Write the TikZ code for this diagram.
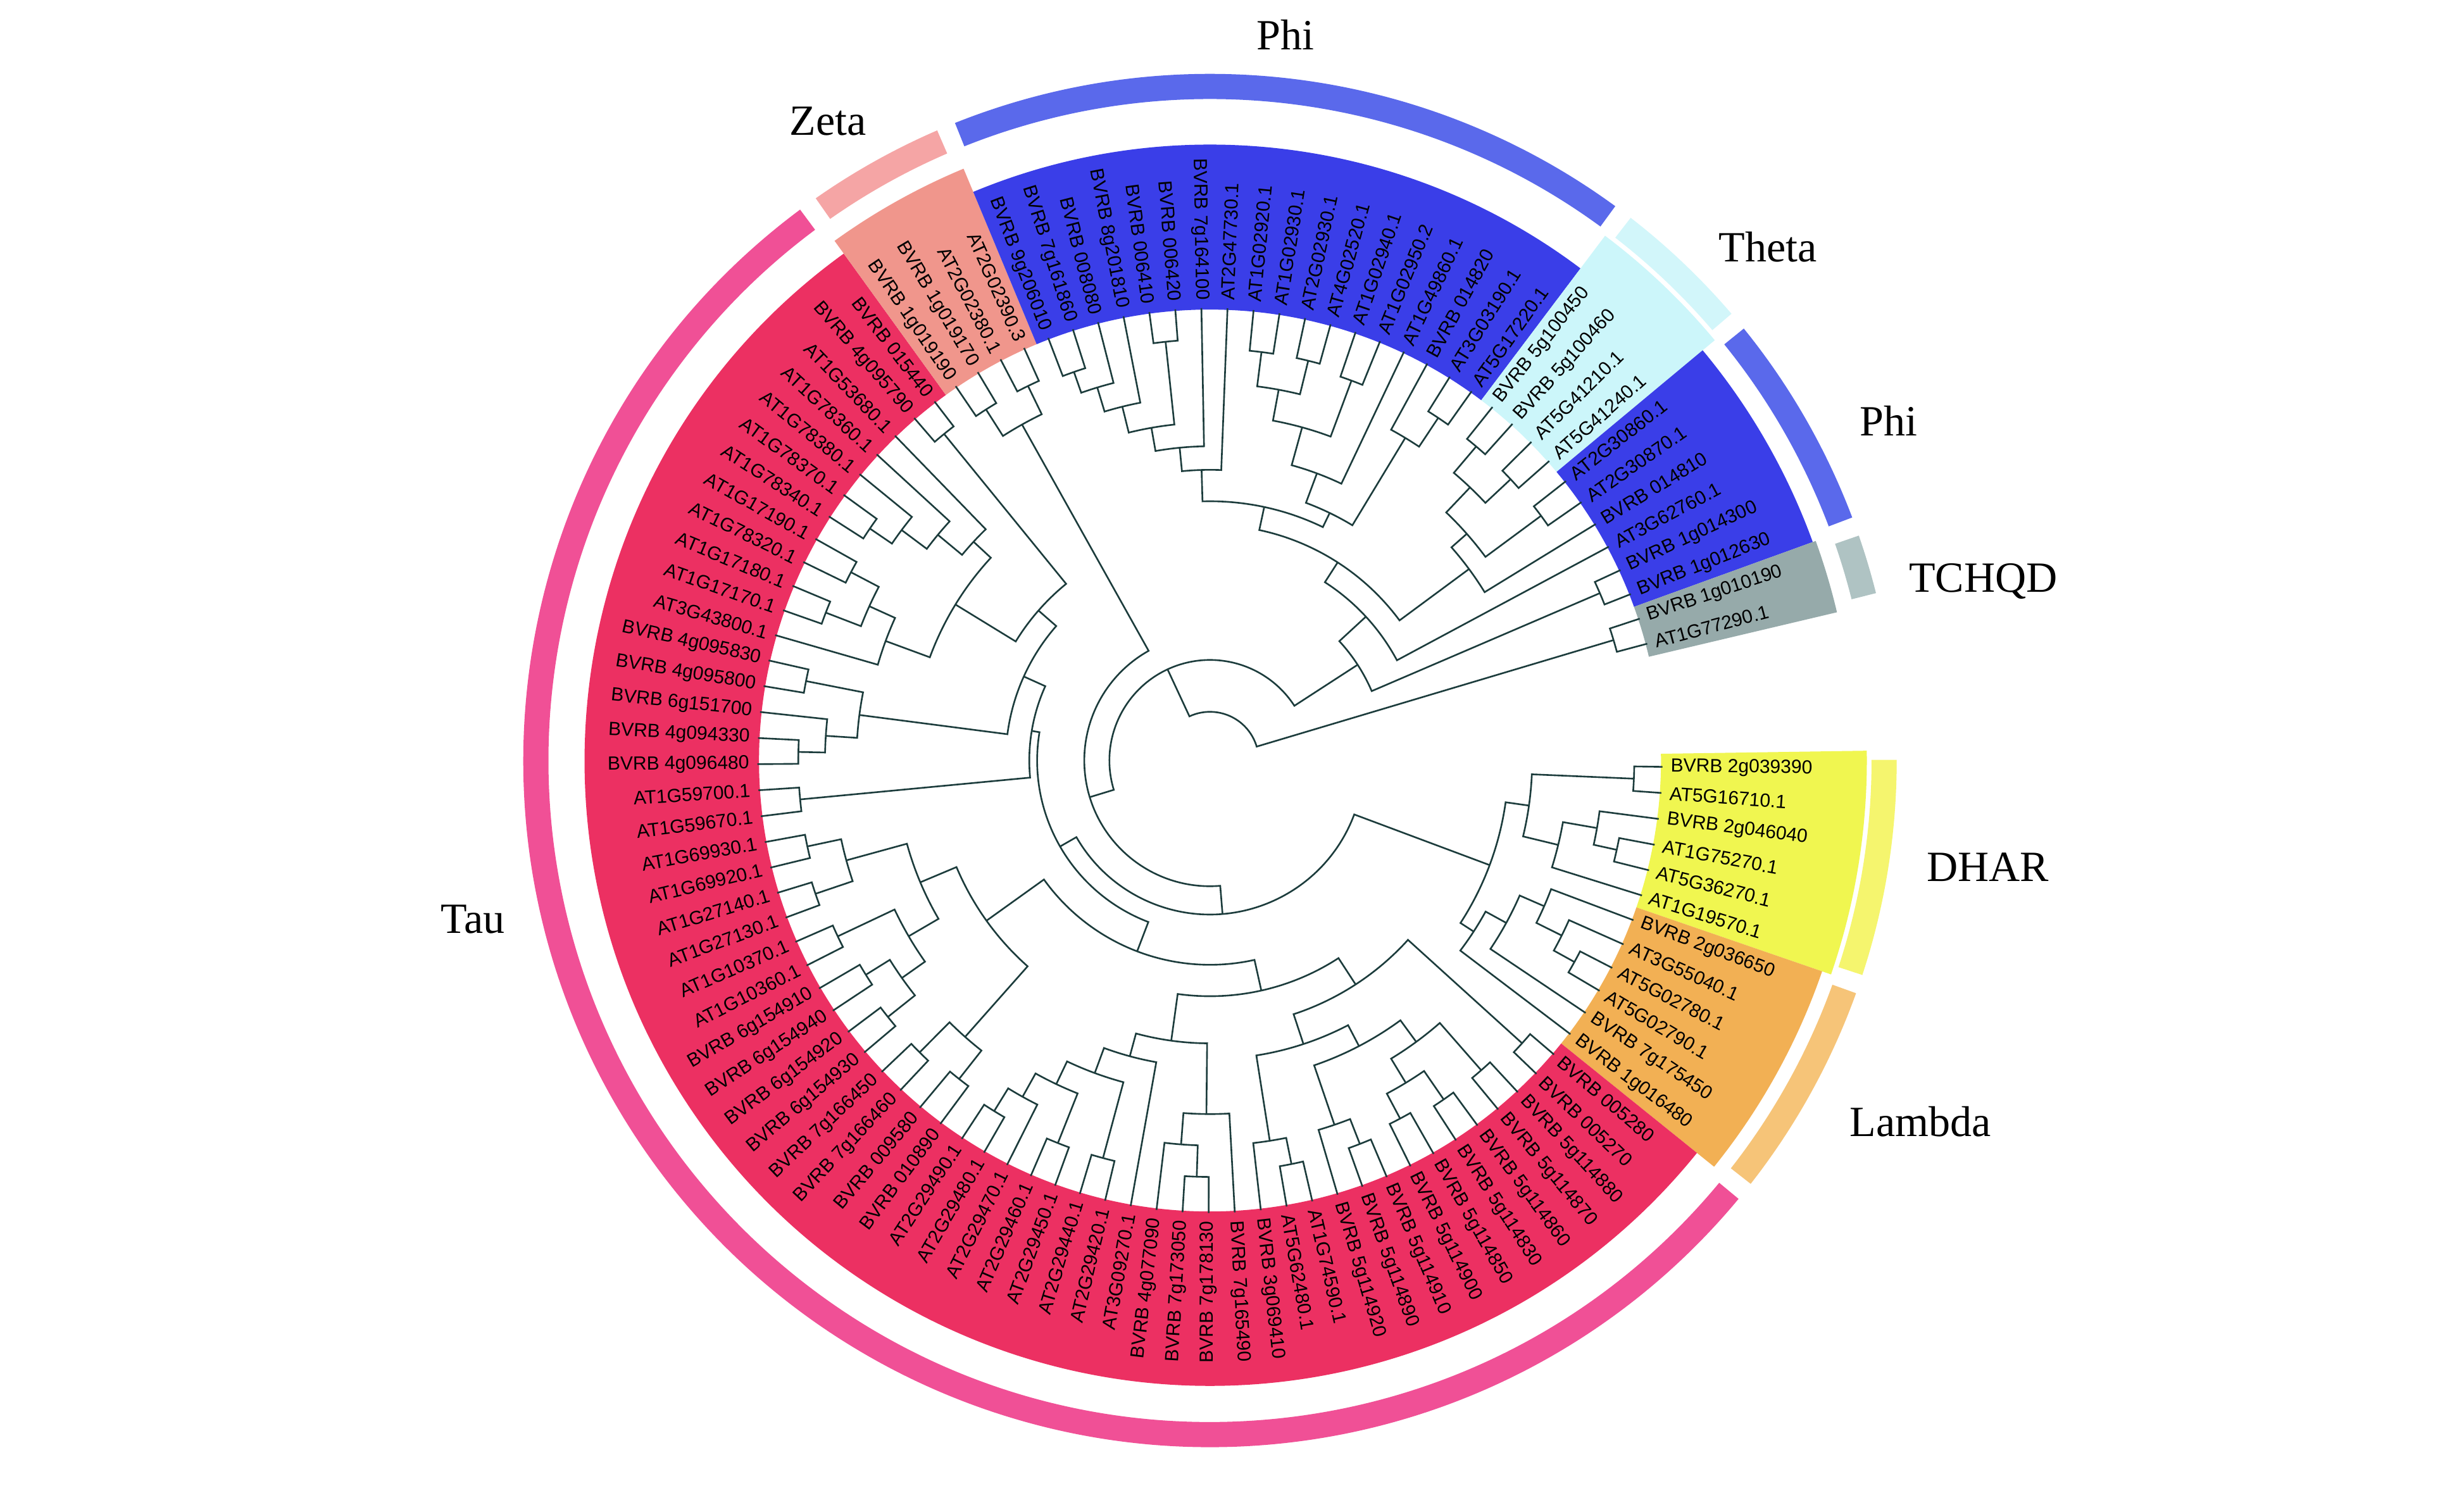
\documentclass[tikz,border=0pt]{standalone}
\usepackage{fontspec}
\setmainfont{Liberation Serif}
\newfontfamily\labfont{Liberation Sans}

\definecolor{treeC}{RGB}{28,60,60}
\definecolor{tauC}{RGB}{236,48,98}
\definecolor{zetaC}{RGB}{240,150,140}
\definecolor{phiC}{RGB}{58,62,232}
\definecolor{thetaC}{RGB}{204,246,250}
\definecolor{tchqdC}{RGB}{150,170,170}
\definecolor{dharC}{RGB}{240,246,80}
\definecolor{lambdaC}{RGB}{242,176,84}
\definecolor{tauR}{RGB}{240,80,150}
\definecolor{zetaR}{RGB}{245,165,165}
\definecolor{phiR}{RGB}{90,105,235}
\definecolor{thetaR}{RGB}{210,246,250}
\definecolor{tchqdR}{RGB}{175,195,195}
\definecolor{dharR}{RGB}{245,245,110}
\definecolor{lambdaR}{RGB}{246,196,120}

% leaf i sits at angle -0.8-3.31*i
% \clade{r}{pos1}{r1}{pos2}{r2}
\newcommand{\clade}[5]{%
  \draw[branch] ({-0.8-3.31*(#2)}:#3) -- ({-0.8-3.31*(#2)}:#1)
    arc[start angle={-0.8-3.31*(#2)}, end angle={-0.8-3.31*(#4)}, radius=#1]
    -- ({-0.8-3.31*(#4)}:#5);}
% \grpsector{colour}{first}{last}{outer r}
\newcommand{\grpsector}[4]{%
  \fill[#1] ({-0.8-3.31*(#2)+1.655}:287)
    arc[start angle={-0.8-3.31*(#2)+1.655}, end angle={-0.8-3.31*(#3)-1.655}, radius=287]
    -- ({-0.8-3.31*(#3)-1.655}:#4)
    arc[start angle={-0.8-3.31*(#3)-1.655}, end angle={-0.8-3.31*(#2)+1.655}, radius=#4] -- cycle;}
% \grpring{colour}{first}{last}
\newcommand{\grpring}[3]{%
  \fill[#1] ({-0.8-3.31*(#2)+0.85}:421)
    arc[start angle={-0.8-3.31*(#2)+0.85}, end angle={-0.8-3.31*(#3)-0.85}, radius=421]
    -- ({-0.8-3.31*(#3)-0.85}:437)
    arc[start angle={-0.8-3.31*(#3)-0.85}, end angle={-0.8-3.31*(#2)+0.85}, radius=437] -- cycle;}

\begin{document}
\begin{tikzpicture}[
    x=0.25mm, y=0.25mm,
    branch/.style={draw=treeC, line width=0.75pt},
    leaf/.style={inner sep=0pt, font=\labfont\fontsize{8.6}{9}\selectfont},
    grp/.style={inner sep=0pt, font=\fontsize{19.5}{22}\selectfont}
]
\useasboundingbox[fill=white] (-770,-466) rectangle (798,484);

% coloured sectors
\grpsector{dharC}{0}{5}{418}
\grpsector{lambdaC}{6}{11}{412}
\grpsector{tauC}{12}{70}{398}
\grpsector{zetaC}{71}{74}{408}
\grpsector{phiC}{75}{92}{392}
\grpsector{thetaC}{93}{96}{418}
\grpsector{phiC}{97}{102}{408}
\grpsector{tchqdC}{103}{104}{410}

% outer rings
\grpring{dharR}{0}{5}
\grpring{lambdaR}{6}{11}
\grpring{tauR}{12}{70}
\grpring{zetaR}{71}{74}
\grpring{phiR}{75}{92}
\grpring{thetaR}{93}{96}
\grpring{phiR}{97}{102}
\grpring{tchqdR}{103}{104}

% DHAR and Lambda
\clade{270}{0}{288}{1}{288}
\clade{265}{3}{288}{4}{288}
\clade{250}{2}{288}{3.5}{265}
\clade{228}{2.75}{250}{5}{288}
\clade{205}{0.5}{270}{3.875}{228}
\clade{265}{8}{288}{9}{288}
\clade{250}{7}{288}{8.5}{265}
\clade{232}{6}{288}{7.75}{250}
\clade{215}{6.875}{232}{10}{288}
\clade{200}{8.4375}{215}{11}{288}
\clade{190}{2.1875}{205}{9.71875}{200}

% Tau
\clade{268}{12}{288}{13}{288}
\clade{262}{14}{288}{15}{288}
\clade{262}{16}{288}{17}{288}
\clade{258}{18}{288}{19}{288}
\clade{240}{16.5}{262}{18.5}{258}
\clade{222}{14.5}{262}{17.5}{240}
\clade{262}{20}{288}{21}{288}
\clade{245}{20.5}{262}{22}{288}
\clade{205}{16}{222}{21.25}{245}
\clade{262}{23}{288}{24}{288}
\clade{245}{23.5}{262}{25}{288}
\clade{190}{18.625}{205}{24.25}{245}
\clade{170}{12.5}{268}{21.4375}{190}
\clade{265}{27}{288}{28}{288}
\clade{245}{27.5}{265}{29}{288}
\clade{225}{26}{288}{28.25}{245}
\clade{262}{31}{288}{32}{288}
\clade{262}{33}{288}{34}{288}
\clade{262}{36}{288}{37}{288}
\clade{245}{35}{288}{36.5}{262}
\clade{228}{33.5}{262}{35.75}{245}
\clade{212}{31.5}{262}{34.625}{228}
\clade{195}{30}{288}{33.0625}{212}
\clade{180}{27.125}{225}{31.53125}{195}
\clade{150}{16.96875}{170}{29.328125}{180}
\clade{258}{38}{288}{39}{288}
\clade{262}{40}{288}{41}{288}
\clade{235}{38.5}{258}{40.5}{262}
\clade{262}{42}{288}{43}{288}
\clade{258}{44}{288}{45}{288}
\clade{240}{42.5}{262}{44.5}{258}
\clade{262}{46}{288}{47}{288}
\clade{222}{43.5}{240}{46.5}{262}
\clade{265}{48}{288}{49}{288}
\clade{262}{50}{288}{51}{288}
\clade{240}{48.5}{265}{50.5}{262}
\clade{200}{45}{222}{49.5}{240}
\clade{175}{39.5}{235}{47.25}{200}
\clade{130}{23.1484}{150}{43.375}{175}
\clade{262}{52}{288}{53}{288}
\clade{262}{54}{288}{55}{288}
\clade{245}{54.5}{262}{56}{288}
\clade{262}{57}{288}{58}{288}
\clade{225}{55.25}{245}{57.5}{262}
\clade{262}{60}{288}{61}{288}
\clade{258}{62}{288}{63}{288}
\clade{238}{60.5}{262}{62.5}{258}
\clade{220}{59}{288}{61.5}{238}
\clade{262}{64}{288}{65}{288}
\clade{245}{64.5}{262}{66}{288}
\clade{225}{65.25}{245}{67}{288}
\clade{205}{66.125}{225}{68}{288}
\clade{190}{60.25}{220}{67.0625}{205}
\clade{268}{69}{288}{70}{288}
\clade{145}{63.6563}{190}{69.5}{268}
\clade{130}{56.375}{225}{66.5781}{145}
\clade{115}{52.5}{262}{61.4766}{130}
\clade{110}{33.2617}{130}{56.9883}{115}

% Zeta
\clade{265}{71}{288}{72}{288}
\clade{265}{73}{288}{74}{288}
\clade{245}{71.5}{265}{73.5}{265}

\clade{98}{5.9531}{190}{45.125}{110}
\clade{80}{25.5391}{98}{72.5}{245}

% Phi, Theta
\clade{262}{75}{288}{76}{288}
\clade{248}{75.5}{262}{77}{288}
\clade{232}{76.25}{248}{78}{288}
\clade{268}{79}{288}{80}{288}
\clade{215}{77.125}{232}{79.5}{268}
\clade{200}{78.3125}{215}{81}{288}
\clade{185}{79.6563}{200}{82}{288}
\clade{262}{83}{288}{84}{288}
\clade{262}{85}{288}{86}{288}
\clade{240}{83.5}{262}{85.5}{262}
\clade{258}{87}{288}{88}{288}
\clade{220}{84.5}{240}{87.5}{258}
\clade{195}{86}{220}{89}{288}
\clade{262}{91}{288}{92}{288}
\clade{240}{90}{288}{91.5}{262}
\clade{175}{87.5}{195}{90.75}{240}
\clade{165}{80.8281}{185}{89.125}{175}
\clade{262}{93}{288}{94}{288}
\clade{262}{95}{288}{96}{288}
\clade{240}{93.5}{262}{95.5}{262}
\clade{262}{97}{288}{98}{288}
\clade{218}{94.5}{240}{97.5}{262}
\clade{205}{96}{218}{99}{288}
\clade{150}{84.9766}{165}{97.5}{205}
\clade{135}{91.2383}{150}{100}{288}
\clade{270}{101}{288}{102}{288}
\clade{112}{95.6191}{135}{101.5}{270}

\clade{64}{49.0195}{80}{98.5596}{112}
% TCHQD and root
\clade{268}{103}{288}{104}{288}
\clade{31}{73.7896}{64}{103.5}{268}

% leaf labels
\foreach \nm [count=\i from 0] in {BVRB 2g039390,AT5G16710.1,BVRB 2g046040,AT1G75270.1,AT5G36270.1,AT1G19570.1,BVRB 2g036650,AT3G55040.1,AT5G02780.1,AT5G02790.1,BVRB 7g175450,BVRB 1g016480,BVRB 005280,BVRB 005270,BVRB 5g114880,BVRB 5g114870,BVRB 5g114860,BVRB 5g114830,BVRB 5g114850,BVRB 5g114900,BVRB 5g114910,BVRB 5g114890,BVRB 5g114920,AT1G74590.1,AT5G62480.1,BVRB 3g069410,BVRB 7g165490,BVRB 7g178130,BVRB 7g173050,BVRB 4g077090,AT3G09270.1,AT2G29420.1,AT2G29440.1,AT2G29450.1,AT2G29460.1,AT2G29470.1,AT2G29480.1,AT2G29490.1,BVRB 010890,BVRB 009580,BVRB 7g166460,BVRB 7g166450,BVRB 6g154930,BVRB 6g154920,BVRB 6g154940,BVRB 6g154910,AT1G10360.1,AT1G10370.1,AT1G27130.1,AT1G27140.1,AT1G69920.1,AT1G69930.1,AT1G59670.1,AT1G59700.1,BVRB 4g096480,BVRB 4g094330,BVRB 6g151700,BVRB 4g095800,BVRB 4g095830,AT3G43800.1,AT1G17170.1,AT1G17180.1,AT1G78320.1,AT1G17190.1,AT1G78340.1,AT1G78370.1,AT1G78380.1,AT1G78360.1,AT1G53680.1,BVRB 4g095790,BVRB 015440,BVRB 1g019190,BVRB 1g019170,AT2G02380.1,AT2G02390.3,BVRB 9g206010,BVRB 7g161860,BVRB 008080,BVRB 8g201810,BVRB 006410,BVRB 006420,BVRB 7g164100,AT2G47730.1,AT1G02920.1,AT1G02930.1,AT2G02930.1,AT4G02520.1,AT1G02940.1,AT1G02950.2,AT1G49860.1,BVRB 014820,AT3G03190.1,AT5G17220.1,BVRB 5g100450,BVRB 5g100460,AT5G41210.1,AT5G41240.1,AT2G30860.1,AT2G30870.1,BVRB 014810,AT3G62760.1,BVRB 1g014300,BVRB 1g012630,BVRB 1g010190,AT1G77290.1}{
  \pgfmathsetmacro\a{-0.8-3.31*\i}
  \pgfmathtruncatemacro\rt{cos(\a)>=0 ? 1 : 0}
  \ifnum\rt=1
    \node[leaf, anchor=west, rotate=\a] (L\i) at (\a:293) {\nm};
  \else
    \node[leaf, anchor=east, rotate=\a+180] (L\i) at (\a:293) {\nm};
  \fi
}

% group names
\node[grp] (phiA) at (48,462) {Phi};
\node[grp] (zeta) at (-243,407) {Zeta};
\node[grp] (theta) at (355,327) {Theta};
\node[grp] (phiB) at (432,216) {Phi};
\node[grp] (tchqd) at (492,114) {TCHQD};
\node[grp] (dhar) at (495,-68) {DHAR};
\node[grp] (lambda) at (452,-230) {Lambda};
\node[grp] (tau) at (-469,-101) {Tau};

\end{tikzpicture}
\end{document}
